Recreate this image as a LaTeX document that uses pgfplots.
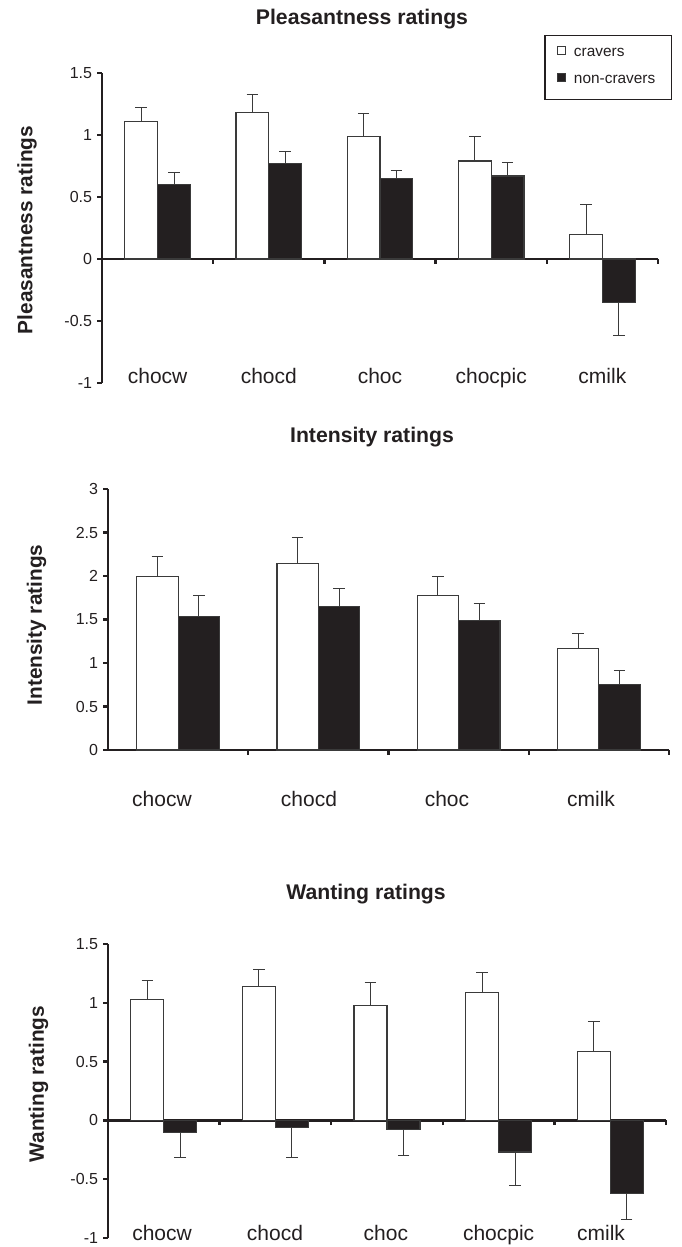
\documentclass[border=0pt]{standalone}
\usepackage{fontspec}
\setmainfont{Liberation Sans}
\usepackage{pgfplots}
\pgfplotsset{compat=1.18}

\definecolor{ink}{HTML}{231F20}
\definecolor{edge}{HTML}{3A3A3A}

% shared look of the three panels
\pgfplotsset{
  rating/.style={
    scale only axis, clip=false, anchor=south west,
    axis x line*=middle, axis y line*=left,
    axis line style={ink, line width=1.2pt},
    major tick style={ink, line width=1.2pt},
    major tick length=2.3pt, tick align=outside,
    xmin=-0.5, xticklabels={},
    ybar, bar width=0.295,
    tick label style={font=\fontsize{8}{9.5}\selectfont, text=ink},
    yticklabel style={inner sep=1pt, xshift=-1.5pt},
    error bars/y dir=both, error bars/y explicit,
    error bars/error bar style={line width=0.5pt, edge},
    error bars/error mark options={rotate=90, mark size=2.9pt, line width=0.5pt, edge},
  },
  crav/.style={draw=edge, line width=0.6pt, fill=white, bar shift=-0.1475},
  noncrav/.style={draw=edge, line width=0.6pt, fill=ink, bar shift=0.1475},
}
\tikzset{cat/.style={font=\fontsize{10.5}{12}\selectfont, text=ink, anchor=base}}
\newcommand{\ttl}{\fontsize{10.6}{12}\selectfont\bfseries}
\newcommand{\ylab}{\fontsize{10.4}{12}\selectfont\bfseries}

\begin{document}
\begin{tikzpicture}
\path[use as bounding box] (0,0) rectangle (340.5pt,-623.5pt);

% ---- Pleasantness
\node[text=ink] at (181pt,-9.5pt) {\ttl Pleasantness ratings};
\node[text=ink, rotate=90] at (13.5pt,-115pt) {\ylab Pleasantness ratings};
\begin{axis}[rating,
  at={(51pt,-191.5pt)}, width=278pt, height=155pt,
  xmax=4.5, ymin=-1, ymax=1.5,
  xtick={-0.5,0.5,1.5,2.5,3.5,4.5},
  ytick={-1,-0.5,0,0.5,1,1.5},
  yticklabels={-1,-0.5,0,0.5,1,1.5},
  legend style={at={(1.025,1.1226)}, anchor=north east, draw=ink, line width=0.6pt,
    font=\fontsize{7.7}{9}\selectfont, text=ink,
    inner xsep=6pt, inner ysep=4.5pt, row sep=3.5pt},
  legend cell align=left,
  legend image code/.code={\draw[#1, line width=0.4pt] (0pt,-0.2pt) rectangle (4pt,3.8pt);
    \path (6pt,0pt);},
]
\addplot[crav] coordinates {
  (0,1.11) += (0,0.115) -= (0,0)
  (1,1.18) += (0,0.15) -= (0,0)
  (2,0.99) += (0,0.18) -= (0,0)
  (3,0.79) += (0,0.195) -= (0,0)
  (4,0.20) += (0,0.24) -= (0,0)
};
\addplot[noncrav] coordinates {
  (0,0.60) += (0,0.10) -= (0,0)
  (1,0.77) += (0,0.10) -= (0,0)
  (2,0.65) += (0,0.067) -= (0,0)
  (3,0.67) += (0,0.11) -= (0,0)
  (4,-0.35) += (0,0) -= (0,0.27)
};
\legend{cravers, non-cravers}
\node[cat] at (axis cs:0,-1) {chocw};
\node[cat] at (axis cs:1,-1) {chocd};
\node[cat] at (axis cs:2,-1) {choc};
\node[cat] at (axis cs:3,-1) {chocpic};
\node[cat] at (axis cs:4,-1) {cmilk};
\end{axis}

% ---- Intensity
\node[text=ink] at (186pt,-218.5pt) {\ttl Intensity ratings};
\node[text=ink, rotate=90] at (18.3pt,-312.5pt) {\ylab Intensity ratings};
\begin{axis}[rating,
  at={(54pt,-375pt)}, width=280.5pt, height=130.5pt,
  xmax=3.5, ymin=0, ymax=3,
  xtick={-0.5,0.5,1.5,2.5,3.5},
  ytick={0,0.5,1,1.5,2,2.5,3},
  yticklabels={0,0.5,1,1.5,2,2.5,3},
]
\addplot[crav] coordinates {
  (0,1.99) += (0,0.23) -= (0,0)
  (1,2.14) += (0,0.30) -= (0,0)
  (2,1.78) += (0,0.21) -= (0,0)
  (3,1.17) += (0,0.17) -= (0,0)
};
\addplot[noncrav] coordinates {
  (0,1.535) += (0,0.245) -= (0,0)
  (1,1.65) += (0,0.21) -= (0,0)
  (2,1.49) += (0,0.19) -= (0,0)
  (3,0.75) += (0,0.165) -= (0,0)
};
\node[cat] at (axis cs:-0.115,-0.655) {chocw};
\node[cat] at (axis cs:0.933,-0.655) {chocd};
\node[cat] at (axis cs:1.917,-0.655) {choc};
\node[cat] at (axis cs:2.944,-0.655) {cmilk};
\end{axis}

% ---- Wanting
\node[text=ink] at (183pt,-447pt) {\ttl Wanting ratings};
\node[text=ink, rotate=90] at (19.25pt,-542pt) {\ylab Wanting ratings};
\begin{axis}[rating,
  at={(54pt,-619pt)}, width=279pt, height=147pt,
  xmax=4.5, ymin=-1, ymax=1.5,
  xtick={-0.5,0.5,1.5,2.5,3.5,4.5},
  ytick={-1,-0.5,0,0.5,1,1.5},
  yticklabels={-1,-0.5,0,0.5,1,1.5},
]
\addplot[crav] coordinates {
  (0,1.03) += (0,0.157) -= (0,0)
  (1,1.14) += (0,0.145) -= (0,0)
  (2,0.98) += (0,0.19) -= (0,0)
  (3,1.09) += (0,0.168) -= (0,0)
  (4,0.585) += (0,0.257) -= (0,0)
};
\addplot[noncrav] coordinates {
  (0,-0.10) += (0,0) -= (0,0.214)
  (1,-0.063) += (0,0) -= (0,0.25)
  (2,-0.074) += (0,0) -= (0,0.228)
  (3,-0.268) += (0,0) -= (0,0.288)
  (4,-0.62) += (0,0) -= (0,0.225)
};
\node[cat] at (axis cs:-0.016,-1.025) {chocw};
\node[cat] at (axis cs:0.996,-1.025) {chocd};
\node[cat] at (axis cs:1.99,-1.025) {choc};
\node[cat] at (axis cs:3.0,-1.025) {chocpic};
\node[cat] at (axis cs:3.918,-1.025) {cmilk};
\end{axis}
\end{tikzpicture}
\end{document}
